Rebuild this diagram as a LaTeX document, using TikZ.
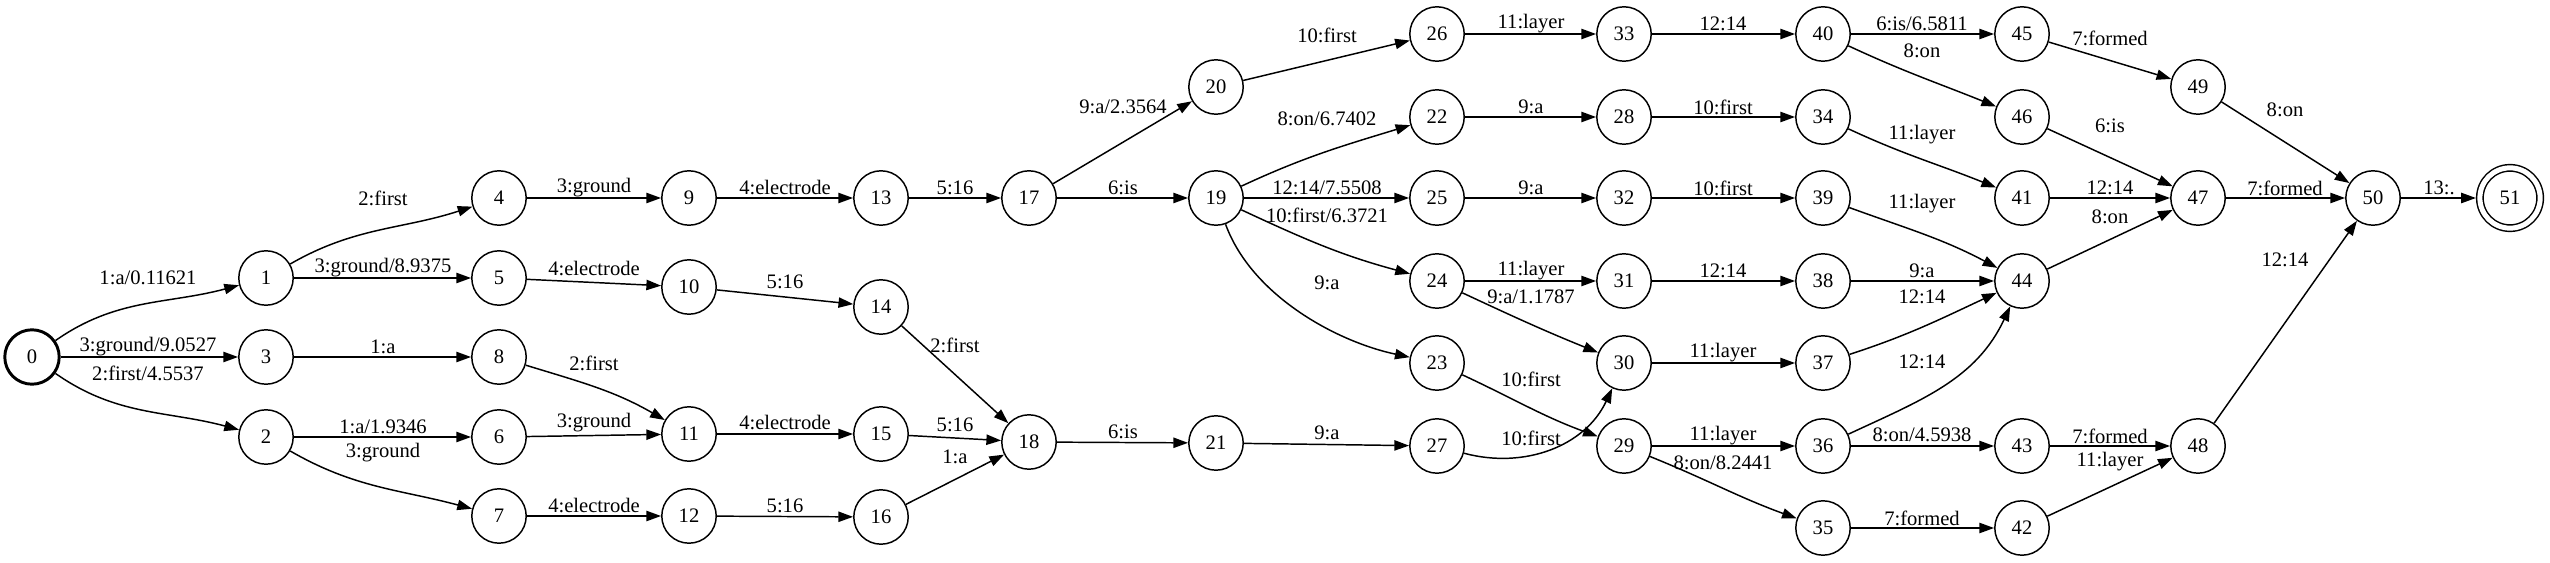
\documentclass[tikz,border=0pt]{standalone}
\usepackage{fontspec}
\setmainfont{Liberation Serif}
\usetikzlibrary{arrows.meta}

\tikzset{
    state/.style={circle, draw, line width=1pt, minimum size=37pt, inner sep=0pt,
                  font=\fontsize{14}{16}\selectfont},
    start/.style={state, line width=2pt},
    final/.style={state, double, double distance=3.4pt, minimum size=41pt, outer sep=2.7pt},
    arc/.style={-{Triangle[length=10pt,width=7pt]}, line width=1pt},
    lbl/.style={inner sep=0pt, font=\fontsize{14}{16}\selectfont}
}

\begin{document}
\begin{tikzpicture}[x=0.68pt, y=0.68pt]
    \useasboundingbox (0,0) rectangle (2550,562);

    % States
    \node[start] (s0) at (32,205) {0};
    \node[state] (s1) at (266,284) {1};
    \node[state] (s3) at (266,205) {3};
    \node[state] (s2) at (266,125) {2};
    \node[state] (s4) at (499,364) {4};
    \node[state] (s5) at (499,284) {5};
    \node[state] (s8) at (499,205) {8};
    \node[state] (s6) at (499,125) {6};
    \node[state] (s7) at (499,46) {7};
    \node[state] (s9) at (689,364) {9};
    \node[state] (s10) at (689,275) {10};
    \node[state] (s11) at (689,128) {11};
    \node[state] (s12) at (689,46) {12};
    \node[state] (s13) at (881,364) {13};
    \node[state] (s14) at (881,255) {14};
    \node[state] (s15) at (881,128) {15};
    \node[state] (s16) at (881,45) {16};
    \node[state] (s17) at (1029,364) {17};
    \node[state] (s18) at (1029,120) {18};
    \node[state] (s20) at (1216,475) {20};
    \node[state] (s19) at (1216,364) {19};
    \node[state] (s21) at (1216,119) {21};
    \node[state] (s26) at (1437,528) {26};
    \node[state] (s22) at (1437,445) {22};
    \node[state] (s25) at (1437,364) {25};
    \node[state] (s24) at (1437,281) {24};
    \node[state] (s23) at (1437,199) {23};
    \node[state] (s27) at (1437,116) {27};
    \node[state] (s33) at (1624,528) {33};
    \node[state] (s28) at (1624,445) {28};
    \node[state] (s32) at (1624,364) {32};
    \node[state] (s31) at (1624,281) {31};
    \node[state] (s30) at (1624,199) {30};
    \node[state] (s29) at (1624,116) {29};
    \node[state] (s40) at (1823,528) {40};
    \node[state] (s34) at (1823,445) {34};
    \node[state] (s39) at (1823,364) {39};
    \node[state] (s38) at (1823,281) {38};
    \node[state] (s37) at (1823,199) {37};
    \node[state] (s36) at (1823,116) {36};
    \node[state] (s35) at (1823,34) {35};
    \node[state] (s45) at (2022,528) {45};
    \node[state] (s46) at (2022,445) {46};
    \node[state] (s41) at (2022,364) {41};
    \node[state] (s44) at (2022,281) {44};
    \node[state] (s43) at (2022,116) {43};
    \node[state] (s42) at (2022,34) {42};
    \node[state] (s49) at (2198,475) {49};
    \node[state] (s47) at (2198,364) {47};
    \node[state] (s48) at (2198,116) {48};
    \node[state] (s50) at (2373,364) {50};
    \node[final] (s51) at (2510,364) {51};

    % Arcs
    \draw[arc] (s0) to[out=35,in=195] (s1);
    \node[lbl] (l0-1) at (148,284) {1:a/0.11621};
    \draw[arc] (s0) -- (s3);
    \node[lbl] (l0-3) at (148,215) {3:ground/9.0527};
    \draw[arc] (s0) to[out=-35,in=165] (s2);
    \node[lbl] (l0-2) at (148,189) {2:first/4.5537};
    \draw[arc] (s1) to[out=30,in=198] (s4);
    \node[lbl] (l1-4) at (383,364) {2:first};
    \draw[arc] (s1) -- (s5);
    \node[lbl] (l1-5) at (383,294) {3:ground/8.9375};
    \draw[arc] (s3) -- (s8);
    \node[lbl] (l3-8) at (383,215) {1:a};
    \draw[arc] (s2) -- (s6);
    \node[lbl] (l2-6) at (383,135) {1:a/1.9346};
    \draw[arc] (s2) to[out=-30,in=165] (s7);
    \node[lbl] (l2-7) at (383,109) {3:ground};
    \draw[arc] (s4) -- (s9);
    \node[lbl] (l4-9) at (594,374) {3:ground};
    \draw[arc] (s5) -- (s10);
    \node[lbl] (l5-10) at (594,293) {4:electrode};
    \draw[arc] (s8) to[out=-17,in=150] (s11);
    \node[lbl] (l8-11) at (594,199) {2:first};
    \draw[arc] (s6) -- (s11);
    \node[lbl] (l6-11) at (594,139) {3:ground};
    \draw[arc] (s7) -- (s12);
    \node[lbl] (l7-12) at (594,56) {4:electrode};
    \draw[arc] (s9) -- (s13);
    \node[lbl] (l9-13) at (785,374) {4:electrode};
    \draw[arc] (s10) -- (s14);
    \node[lbl] (l10-14) at (785,280) {5:16};
    \draw[arc] (s11) -- (s15);
    \node[lbl] (l11-15) at (785,139) {4:electrode};
    \draw[arc] (s12) -- (s16);
    \node[lbl] (l12-16) at (785,56) {5:16};
    \draw[arc] (s13) -- (s17);
    \node[lbl] (l13-17) at (955,374) {5:16};
    \draw[arc] (s14) -- (s18);
    \node[lbl] (l14-18) at (955,217) {2:first};
    \draw[arc] (s15) -- (s18);
    \node[lbl] (l15-18) at (955,137) {5:16};
    \draw[arc] (s16) -- (s18);
    \node[lbl] (l16-18) at (955,105) {1:a};
    \draw[arc] (s17) -- (s20);
    \node[lbl] (l17-20) at (1123,455) {9:a/2.3564};
    \draw[arc] (s17) -- (s19);
    \node[lbl] (l17-19) at (1123,374) {6:is};
    \draw[arc] (s18) -- (s21);
    \node[lbl] (l18-21) at (1123,130) {6:is};
    \draw[arc] (s20) -- (s26);
    \node[lbl] (l20-26) at (1327,527) {10:first};
    \draw[arc] (s19) to[out=25,in=197] (s22);
    \node[lbl] (l19-22) at (1327,443) {8:on/6.7402};
    \draw[arc] (s19) -- (s25);
    \node[lbl] (l19-25) at (1327,374) {12:14/7.5508};
    \draw[arc] (s19) to[out=-25,in=165] (s24);
    \node[lbl] (l19-24) at (1327,347) {10:first/6.3721};
    \draw[arc] (s19) to[out=-70,in=168, looseness=0.85] (s23);
    \node[lbl] (l19-23) at (1327,279) {9:a};
    \draw[arc] (s21) -- (s27);
    \node[lbl] (l21-27) at (1327,129) {9:a};
    \draw[arc] (s26) -- (s33);
    \node[lbl] (l26-33) at (1531,538) {11:layer};
    \draw[arc] (s22) -- (s28);
    \node[lbl] (l22-28) at (1531,455) {9:a};
    \draw[arc] (s25) -- (s32);
    \node[lbl] (l25-32) at (1531,374) {9:a};
    \draw[arc] (s24) -- (s31);
    \node[lbl] (l24-31) at (1531,291) {11:layer};
    \draw[arc] (s24) to[out=-25,in=158] (s30);
    \node[lbl] (l24-30) at (1531,265) {9:a/1.1787};
    \draw[arc] (s23) to[out=-25,in=160] (s29);
    \node[lbl] (l23-29) at (1531,183) {10:first};
    \draw[arc] (s27) to[out=-15,in=245] (s30);
    \node[lbl] (l27-30) at (1531,124) {10:first};
    \draw[arc] (s33) -- (s40);
    \node[lbl] (l33-40) at (1723,538) {12:14};
    \draw[arc] (s28) -- (s34);
    \node[lbl] (l28-34) at (1723,455) {10:first};
    \draw[arc] (s32) -- (s39);
    \node[lbl] (l32-39) at (1723,374) {10:first};
    \draw[arc] (s31) -- (s38);
    \node[lbl] (l31-38) at (1723,291) {12:14};
    \draw[arc] (s30) -- (s37);
    \node[lbl] (l30-37) at (1723,209) {11:layer};
    \draw[arc] (s29) -- (s36);
    \node[lbl] (l29-36) at (1723,126) {11:layer};
    \draw[arc] (s29) to[out=-22,in=160] (s35);
    \node[lbl] (l29-35) at (1723,99) {8:on/8.2441};
    \draw[arc] (s40) -- (s45);
    \node[lbl] (l40-45) at (1922,538) {6:is/6.5811};
    \draw[arc] (s40) to[out=-25,in=158] (s46);
    \node[lbl] (l40-46) at (1922,511) {8:on};
    \draw[arc] (s34) to[out=-25,in=158] (s41);
    \node[lbl] (l34-41) at (1922,427) {11:layer};
    \draw[arc] (s39) to[out=-20,in=152] (s44);
    \node[lbl] (l39-44) at (1922,358) {11:layer};
    \draw[arc] (s38) -- (s44);
    \node[lbl] (l38-44) at (1922,291) {9:a};
    \draw[arc] (s37) to[out=18,in=205] (s44);
    \node[lbl] (l37-44) at (1922,265) {12:14};
    \draw[arc] (s36) to[out=25,in=245] (s44);
    \node[lbl] (l36-44) at (1922,200) {12:14};
    \draw[arc] (s36) -- (s43);
    \node[lbl] (l36-43) at (1922,127) {8:on/4.5938};
    \draw[arc] (s35) -- (s42);
    \node[lbl] (l35-42) at (1922,44) {7:formed};
    \draw[arc] (s45) -- (s49);
    \node[lbl] (l45-49) at (2110,524) {7:formed};
    \draw[arc] (s46) -- (s47);
    \node[lbl] (l46-47) at (2110,436) {6:is};
    \draw[arc] (s41) -- (s47);
    \node[lbl] (l41-47) at (2110,374) {12:14};
    \draw[arc] (s44) -- (s47);
    \node[lbl] (l44-47) at (2110,345) {8:on};
    \draw[arc] (s43) -- (s48);
    \node[lbl] (l43-48) at (2110,126) {7:formed};
    \draw[arc] (s42) -- (s48);
    \node[lbl] (l42-48) at (2110,100) {11:layer};
    \draw[arc] (s49) -- (s50);
    \node[lbl] (l49-50) at (2285,452) {8:on};
    \draw[arc] (s47) -- (s50);
    \node[lbl] (l47-50) at (2285,374) {7:formed};
    \draw[arc] (s48) -- (s50);
    \node[lbl] (l48-50) at (2285,302) {12:14};
    \draw[arc] (s50) -- (s51);
    \node[lbl] (l50-51) at (2439,374) {13:.};
\end{tikzpicture}
\end{document}
